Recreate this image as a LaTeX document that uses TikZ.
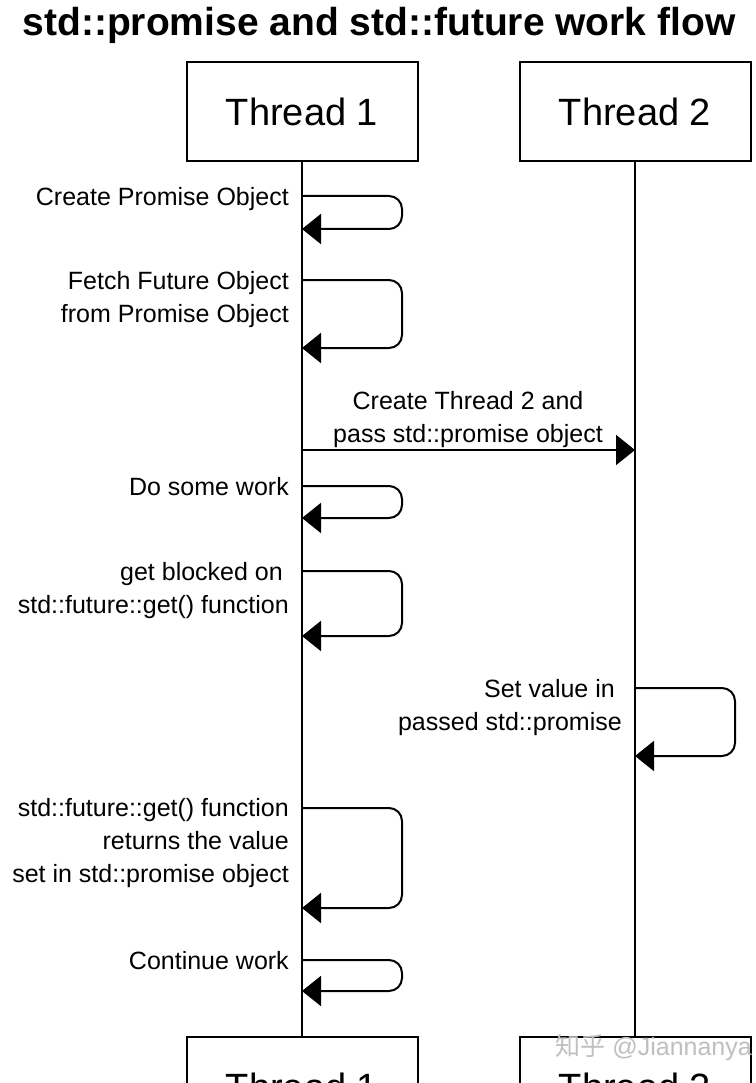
\documentclass[tikz,border=0pt]{standalone}
\usepackage{fontspec}
\setmainfont{Liberation Sans}
\newfontfamily\cjkfont{Noto Sans CJK SC}
\usetikzlibrary{arrows.meta}
\tikzset{
  lane/.style={draw, line width=2pt, minimum width=231pt, minimum height=99pt,
    inner sep=0pt, font=\fontsize{38}{44}\selectfont},
  life/.style={line width=2pt},
  msg/.style={line width=2pt, -{Triangle[length=19pt,width=30pt]}},
  selfmsg/.style={msg, rounded corners=13pt},
  lbl/.style={anchor=north east, align=right, inner sep=0pt,
    font=\fontsize{25}{33}\selectfont},
}
\begin{document}
\begin{tikzpicture}[x=1pt,y=-1pt]
\useasboundingbox (0,0) rectangle (755,1083);
\fill[white] (0,0) rectangle (755,1083);
\clip (0,0) rectangle (755,1083);
% title
\node (title) at (379,25) {\fontsize{39}{44}\selectfont\bfseries std::promise and std::future work flow};
% heads
\node[lane] (t1) at (302,111.5) {Thread 1};
\node[lane] (t2) at (635,111.5) {Thread 2};
\node[lane] (b1) at (302,1086.5) {Thread 1};
\node[lane] (b2) at (635,1086.5) {Thread 2};
% lifelines
\draw[life] (t1.south) -- (b1.north);
\draw[life] (t2.south) -- (b2.north);
% lifeline coordinates
\coordinate (a1) at (302,196); \coordinate (a2) at (302,229);
\coordinate (c1) at (302,280); \coordinate (c2) at (302,348);
\coordinate (m1) at (302,450); \coordinate (m2) at (635,450);
\coordinate (d1) at (302,486); \coordinate (d2) at (302,518);
\coordinate (e1) at (302,571); \coordinate (e2) at (302,636);
\coordinate (f1) at (635,688); \coordinate (f2) at (635,756);
\coordinate (g1) at (302,808); \coordinate (g2) at (302,908);
\coordinate (h1) at (302,960); \coordinate (h2) at (302,991);
% self messages
\draw[selfmsg] (a1) -- ++(100,0) |- (a2);
\draw[selfmsg] (c1) -- ++(100,0) |- (c2);
\draw[selfmsg] (d1) -- ++(100,0) |- (d2);
\draw[selfmsg] (e1) -- ++(100,0) |- (e2);
\draw[selfmsg] (f1) -- ++(100,0) |- (f2);
\draw[selfmsg] (g1) -- ++(100,0) |- (g2);
\draw[selfmsg] (h1) -- ++(100,0) |- (h2);
\draw[msg] (m1) -- (m2);
% labels
\node[lbl] (la) at (289,187) {Create Promise Object};
\node[lbl] (lc) at (289,271) {Fetch Future Object\\from Promise Object};
\node[align=center, inner sep=0pt, font=\fontsize{25}{33}\selectfont] (lm) at (468,420) {Create Thread 2 and\\pass std::promise object};
\node[lbl] (ld) at (289,477) {Do some work};
\node[lbl] (le) at (289,562) {get blocked on\hspace*{6pt}\\std::future::get() function};
\node[lbl] (lf) at (622,679) {Set value in\hspace*{7pt}\\passed std::promise};
\node[lbl] (lg) at (289,798) {std::future::get() function\\returns the value\hspace*{6pt}\\set in std::promise object};
\node[lbl] (lh) at (289,951) {Continue work};
% watermark
\node[text=black!25, anchor=east, inner sep=0pt, font=\fontsize{25}{28}\selectfont] (wm) at (752,1048) {{\cjkfont 知乎} @Jiannanya};
\end{tikzpicture}
\end{document}
